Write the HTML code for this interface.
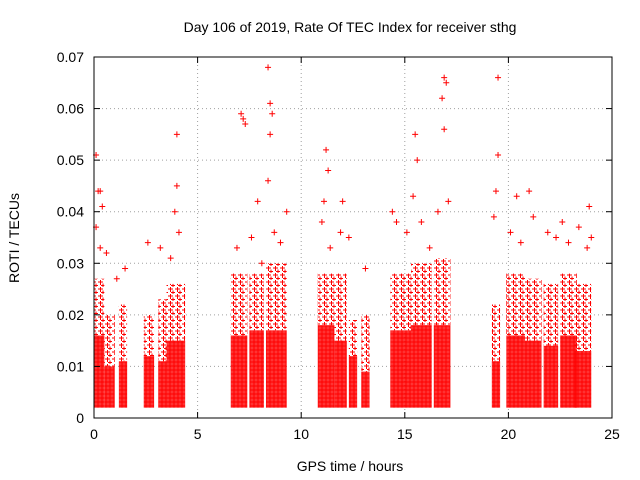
<!DOCTYPE html>
<html><head><meta charset="utf-8"><style>
body{margin:0;background:#fff;}
svg{display:block;font-family:"Liberation Sans",sans-serif;}
</style></head><body>
<svg id="chart" width="640" height="480">
<defs>
<pattern id="dense" width="4" height="4" patternUnits="userSpaceOnUse"><rect width="4" height="4" fill="#ff0000" opacity="0.8"/><path d="M0 2H4M2 0V4" stroke="#ff0000" stroke-width="1"/></pattern>
<pattern id="sparse" width="7" height="7" patternUnits="userSpaceOnUse"><path d="M0 2H5M2.5 0V5" stroke="#ff0000" stroke-width="1"/><path d="M3 5.5H7M5 3.5V7" stroke="#ff0000" stroke-width="1"/></pattern>
</defs>
<text x="350" y="32" font-size="14" text-anchor="middle">Day 106 of 2019, Rate Of TEC Index for receiver sthg</text>
<text x="350" y="471" font-size="14" text-anchor="middle">GPS time / hours</text>
<text transform="translate(19,238) rotate(-90)" font-size="14" text-anchor="middle">ROTI / TECUs</text>
<g id="grid"></g><g id="marks"></g><g id="axes"></g>
</svg>
<script>
const xTicks=[0,5,10,15,20,25];
const yTicks=[0,0.01,0.02,0.03,0.04,0.05,0.06,0.07];
const yLabels=["0","0.01","0.02","0.03","0.04","0.05","0.06","0.07"];
const segStart=[0.0,0.5,1.2,2.4,3.1,3.5,6.6,7.5,8.3,10.8,11.6,12.3,12.9,14.3,15.3,16.4,19.2,19.9,20.8,21.7,22.5,23.2];
const segEnd=[0.5,1.0,1.6,2.9,3.5,4.4,7.4,8.2,9.3,11.6,12.2,12.7,13.3,15.3,16.3,17.2,19.6,20.8,21.6,22.4,23.3,24.0];
const denseTop=[0.016,0.01,0.011,0.012,0.011,0.015,0.016,0.017,0.017,0.018,0.015,0.012,0.009,0.017,0.018,0.018,0.011,0.016,0.015,0.014,0.016,0.013];
const sparseTop=[0.027,0.02,0.022,0.02,0.023,0.026,0.028,0.028,0.03,0.028,0.028,0.019,0.02,0.028,0.03,0.031,0.022,0.028,0.027,0.026,0.028,0.026];
const outT=[0.1,0.2,0.3,4.0,4.0,7.1,7.2,7.3,7.9,8.4,8.5,8.6,8.5,8.4,9.3,11.2,11.3,11.1,15.5,15.6,15.4,16.9,17.0,16.8,16.9,19.5,19.5,19.4,20.4,21.0,22.6,23.9,0.4,3.9,12.0,14.4,
 0.1,0.3,0.6,1.1,1.5,2.6,3.2,3.7,4.1,6.9,7.6,8.1,8.7,9.0,11.0,11.4,11.9,12.3,13.1,14.6,15.1,15.8,16.2,16.6,17.1,19.3,20.1,20.6,21.2,21.9,22.3,22.9,23.4,23.8,24.0];
const outV=[0.051,0.044,0.044,0.055,0.045,0.059,0.058,0.057,0.042,0.068,0.061,0.059,0.055,0.046,0.040,0.052,0.048,0.042,0.055,0.050,0.043,0.066,0.065,0.062,0.056,0.066,0.051,0.044,0.043,0.044,0.038,0.041,0.041,0.040,0.042,0.040,
 0.037,0.033,0.032,0.027,0.029,0.034,0.033,0.031,0.036,0.033,0.035,0.030,0.036,0.034,0.038,0.033,0.036,0.035,0.029,0.038,0.036,0.038,0.033,0.040,0.042,0.039,0.036,0.034,0.039,0.036,0.035,0.034,0.037,0.033,0.035];
const X0=94,X1=612,Y0=418,Y1=57;
const sx=t=>X0+(t-0)/(25-0)*(X1-X0);
const sy=v=>Y0-(v-0)/(0.07-0)*(Y0-Y1);
const NS="http://www.w3.org/2000/svg";
function mk(tag,attrs,parent){const e=document.createElementNS(NS,tag);for(const k in attrs)e.setAttribute(k,attrs[k]);parent.appendChild(e);return e;}
const grid=document.getElementById('grid'),marks=document.getElementById('marks'),axes=document.getElementById('axes');
xTicks.forEach((t,i)=>{
 if(i>0&&i<xTicks.length-1){const l=mk('line',{x1:sx(t),x2:sx(t),y1:Y0,y2:Y1,stroke:'#a0a0a0','stroke-dasharray':'1,3'},grid);
 
 }
 mk('line',{x1:sx(t),x2:sx(t),y1:Y0,y2:Y0-6,stroke:'#000'},axes);
 mk('line',{x1:sx(t),x2:sx(t),y1:Y1,y2:Y1+6,stroke:'#000'},axes);
 const tx=mk('text',{x:sx(t),y:Y0+21,'font-size':14,'text-anchor':'middle'},axes);tx.textContent=t;
 
 
});
yTicks.forEach((v,i)=>{
 if(i>0&&i<yTicks.length-1){const l=mk('line',{x1:X0,x2:X1,y1:sy(v),y2:sy(v),stroke:'#a0a0a0','stroke-dasharray':'1,3'},grid);
 
 }
 mk('line',{x1:X0,x2:X0+6,y1:sy(v),y2:sy(v),stroke:'#000'},axes);
 mk('line',{x1:X1,x2:X1-6,y1:sy(v),y2:sy(v),stroke:'#000'},axes);
 const tx=mk('text',{x:X0-10,y:sy(v)+5,'font-size':14,'text-anchor':'end'},axes);tx.textContent=yLabels[i];
 
 
});
const fr=mk('rect',{x:X0,y:Y1,width:X1-X0,height:Y0-Y1,fill:'none',stroke:'#000'},axes);


segStart.forEach((s,i)=>{
 const a=mk('rect',{x:sx(s),width:sx(segEnd[i])-sx(s),y:sy(sparseTop[i]),height:sy(denseTop[i])-sy(sparseTop[i]),fill:'url(#sparse)'},marks);
 
 
 const b=mk('rect',{x:sx(s),width:sx(segEnd[i])-sx(s),y:sy(denseTop[i]),height:sy(0.002)-sy(denseTop[i]),fill:'url(#dense)'},marks);
 
 
});
outT.forEach((t,i)=>{
 const x=sx(t),y=sy(outV[i]);
 const p=mk('path',{d:`M${x-3} ${y}H${x+3}M${x} ${y-3}V${y+3}`,stroke:'#ff0000','stroke-width':1},marks);
 
 
});
</script>
</body></html>
